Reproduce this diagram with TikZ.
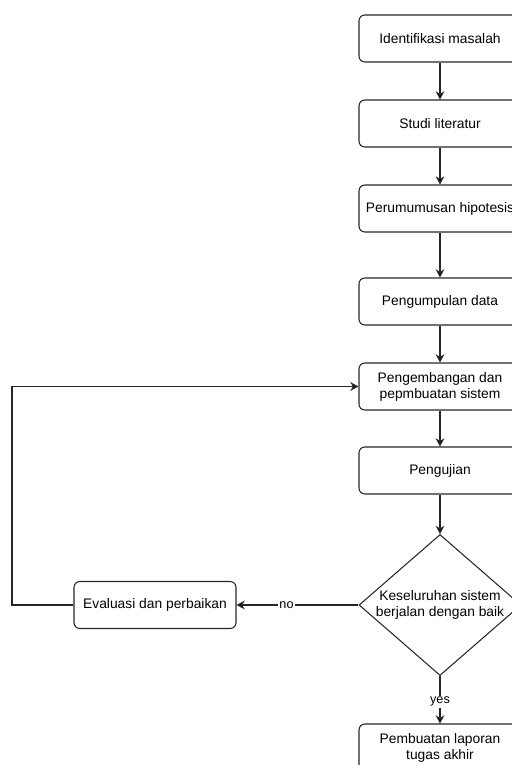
\documentclass[tikz,border=0pt]{standalone}
\usepackage{fontspec}
\setmainfont{Liberation Sans}
\usetikzlibrary{arrows.meta, shapes.geometric, positioning}

\begin{document}
\begin{tikzpicture}[x=0.03cm, y=-0.03cm,
        every node/.style={font=\fontsize{11.8}{13.6}\selectfont},
        stepbox/.style={draw=black!85, line width=0.9pt, rounded corners=5pt, minimum width=4.86cm, minimum height=1.41cm, align=center},
        decision/.style={draw=black!85, line width=0.9pt, diamond, aspect=1.15, inner sep=0pt, minimum width=4.86cm, minimum height=4.23cm, align=center},
        tag/.style={fill=white, inner sep=1pt, font=\fontsize{10.8}{12}\selectfont}]
                \useasboundingbox (0,0) rectangle (512,765);
                \clip (0,0) rectangle (512,765);

                \node (ident) [stepbox] at (440,38.5) {Identifikasi masalah};
                \node (studi) [stepbox] at (440,123.5) {Studi literatur};
                \node (hipo) [stepbox] at (440,208.5) {Perumumusan hipotesis};
                \node (data) [stepbox] at (440,301.5) {Pengumpulan data};
                \node (kembang) [stepbox] at (440,386.5) {Pengembangan dan\\pepmbuatan sistem};
                \node (uji) [stepbox] at (440,470.5) {Pengujian};
                \node (cek) [decision] at (440,605) {Keseluruhan sistem\\berjalan dengan baik};
                \node (eval) [stepbox] at (155,605) {Evaluasi dan perbaikan};
                \node (lapor) [stepbox] at (440,747.5) {Pembuatan laporan\\tugas akhir};
                \coordinate (balik) at (12,605);

                \path [-{Stealth[length=7pt,width=7.5pt]}, line width=1pt, draw=black!85]
                    (ident) edge (studi)
                    (studi) edge (hipo)
                    (hipo) edge (data)
                    (data) edge (kembang)
                    (kembang) edge (uji)
                    (uji) edge (cek)
                    (cek) edge node [tag, pos=0.59] {no} (eval)
                    (cek) edge node [tag, pos=0.54] {yes} (lapor);
                \draw [-{Stealth[length=7pt,width=7.5pt]}, line width=1pt, draw=black!85]
                    (eval.west) -- (balik) |- (kembang.west);
            \end{tikzpicture}
\end{document}
